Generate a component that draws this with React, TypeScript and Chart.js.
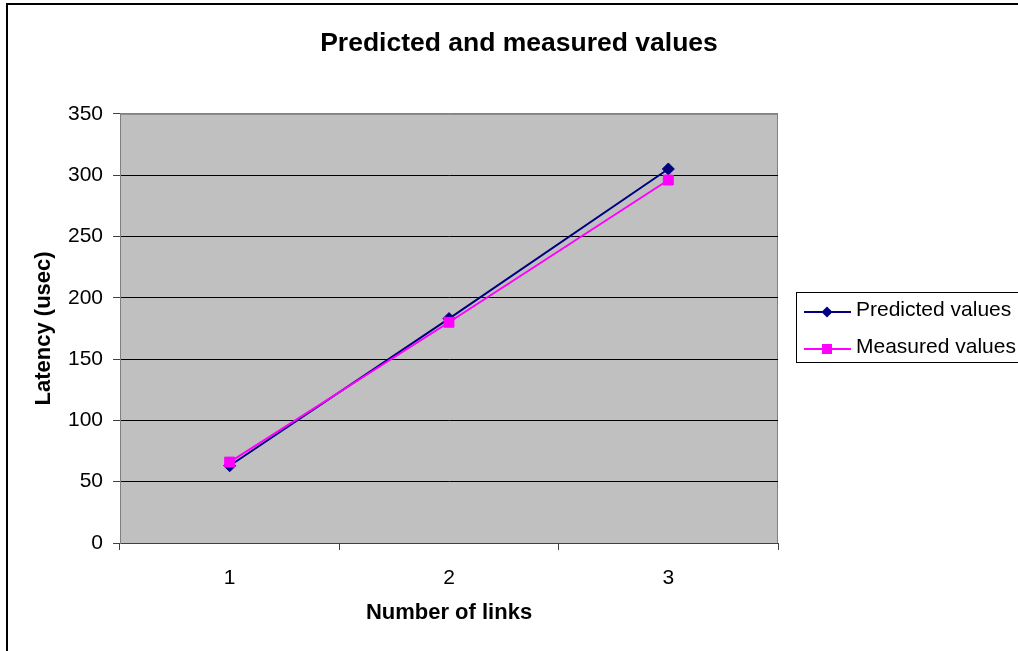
import React, { useEffect, useRef } from "react";
import { Chart, registerables } from "chart.js";

Chart.register(...registerables);

const FONT = "'Liberation Sans', Arial, sans-serif";

const chartTitle = "Predicted and measured values";
const xTitle = "Number of links";
const yTitle = "Latency (usec)";
const categories = ["1", "2", "3"];
const predictedLabel = "Predicted values";
const measuredLabel = "Measured values";
const predicted = [63, 183, 305];
const measured = [66, 180, 296];
const yMin = 0;
const yMax = 350;
const yStep = 50;

const plotBackground = {
  id: "plotBackground",
  beforeDraw(chart: any) {
    const { ctx, chartArea: a } = chart;
    ctx.save();
    ctx.fillStyle = "#C0C0C0";
    ctx.fillRect(a.left, a.top, a.right - a.left, a.bottom - a.top);
    ctx.strokeStyle = "#808080";
    ctx.lineWidth = 1;
    ctx.strokeRect(a.left + 0.5, a.top + 0.5, a.right - a.left - 1, a.bottom - a.top);
    ctx.restore();
  },
};

const boxLegend = {
  id: "boxLegend",
  afterDraw(chart: any) {
    const { ctx } = chart;
    const ds = chart.data.datasets;
    const boxLeft = 796.5;
    const boxTop = 292.5;
    const boxH = 70;
    ctx.save();
    ctx.strokeStyle = "#000";
    ctx.lineWidth = 1;
    ctx.strokeRect(boxLeft, boxTop, 300, boxH);
    const rowYs = [312, 349];
    ds.forEach((d: any, i: number) => {
      const y = rowYs[i];
      ctx.strokeStyle = d.borderColor;
      ctx.lineWidth = 2;
      ctx.beginPath();
      ctx.moveTo(804, y);
      ctx.lineTo(851, y);
      ctx.stroke();
      ctx.fillStyle = d.backgroundColor;
      const cx = 827;
      if (d.pointStyle === "rectRot") {
        const r = 5.5;
        ctx.beginPath();
        ctx.moveTo(cx, y - r);
        ctx.lineTo(cx + r, y);
        ctx.lineTo(cx, y + r);
        ctx.lineTo(cx - r, y);
        ctx.closePath();
        ctx.fill();
      } else {
        ctx.fillRect(cx - 5, y - 5, 10, 10);
      }
      ctx.fillStyle = "#000";
      ctx.font = `21px ${FONT}`;
      ctx.textAlign = "left";
      ctx.textBaseline = "middle";
      ctx.fillText(d.label, 856, y - 1.5);
    });
    ctx.restore();
  },
};

export default function App() {
  const ref = useRef<HTMLCanvasElement>(null);

  useEffect(() => {
    if (!ref.current) return;
    const chart = new Chart(ref.current, {
      type: "line",
      data: {
        labels: categories,
        datasets: [
          {
            label: predictedLabel,
            data: predicted,
            borderColor: "#000080",
            backgroundColor: "#000080",
            borderWidth: 2,
            pointStyle: "rectRot",
            pointRadius: 6,
            pointBorderWidth: 1,
            pointHoverRadius: 6,
            order: 1,
            tension: 0,
          },
          {
            label: measuredLabel,
            data: measured,
            borderColor: "#FF00FF",
            backgroundColor: "#FF00FF",
            borderWidth: 2,
            pointStyle: "rect",
            pointRadius: 7,
            pointBorderWidth: 1,
            pointHoverRadius: 7,
            order: 0,
            tension: 0,
          },
        ],
      },
      options: {
        responsive: false,
        animation: false,
        devicePixelRatio: 1,
        layout: { padding: { left: 20, right: 0, top: 0, bottom: 0 } },
        plugins: {
          legend: { display: false },
          tooltip: { enabled: false },
          title: {
            display: true,
            text: chartTitle,
            color: "#000",
            font: { family: FONT, size: 26.5, weight: "bold" },
            padding: { top: 28, bottom: 54 },
          },
        },
        scales: {
          x: {
            type: "category",
            offset: true,
            grid: {
              display: true,
              drawOnChartArea: false,
              offset: true,
              tickLength: 7,
              tickColor: "#404040",
            },
            border: { display: true, color: "#404040", width: 1 },
            ticks: {
              color: "#000",
              font: { family: FONT, size: 21 },
              padding: 15.4,
            },
            title: {
              display: true,
              text: xTitle,
              color: "#000",
              font: { family: FONT, size: 22, weight: "bold" },
              padding: { top: 0, bottom: 24.8 },
            },
            afterFit: (s: any) => {
              s.height = 108;
            },
          },
          y: {
            type: "linear",
            position: "left",
            min: yMin,
            max: yMax,
            ticks: {
              stepSize: yStep,
              color: "#000",
              font: { family: FONT, size: 21 },
              padding: 10,
            },
            grid: {
              color: (c: any) => (c.tick && c.tick.value === yMax ? "#808080" : "#000"),
              lineWidth: 1,
              tickLength: 7,
              tickColor: "#404040",
            },
            border: { display: true, color: "#808080", width: 1 },
            title: {
              display: true,
              text: yTitle,
              color: "#000",
              font: { family: FONT, size: 22, weight: "bold" },
              padding: { top: 10.8, bottom: 0 },
            },
            afterFit: (s: any) => {
              s.width = 100;
            },
          },
          yR: {
            type: "linear",
            position: "right",
            display: true,
            grid: { display: false },
            border: { display: false },
            ticks: { display: false },
            afterFit: (s: any) => {
              s.width = 240;
            },
          },
        },
      },
      plugins: [plotBackground, boxLegend],
    } as any);
    return () => chart.destroy();
  }, []);

  return (
    <div
      style={{
        position: "fixed",
        left: 0,
        top: 0,
        width: 1018,
        height: 651,
        overflow: "hidden",
        background: "#fff",
      }}
    >
      <canvas
        ref={ref}
        width={1018}
        height={651}
        style={{ position: "absolute", left: 0, top: 0, width: 1018, height: 651 }}
      />
      <div
        style={{
          position: "absolute",
          left: 6,
          top: 3,
          width: 1100,
          height: 700,
          borderLeft: "2px solid #000",
          borderTop: "2px solid #000",
          pointerEvents: "none",
        }}
      />
    </div>
  );
}
